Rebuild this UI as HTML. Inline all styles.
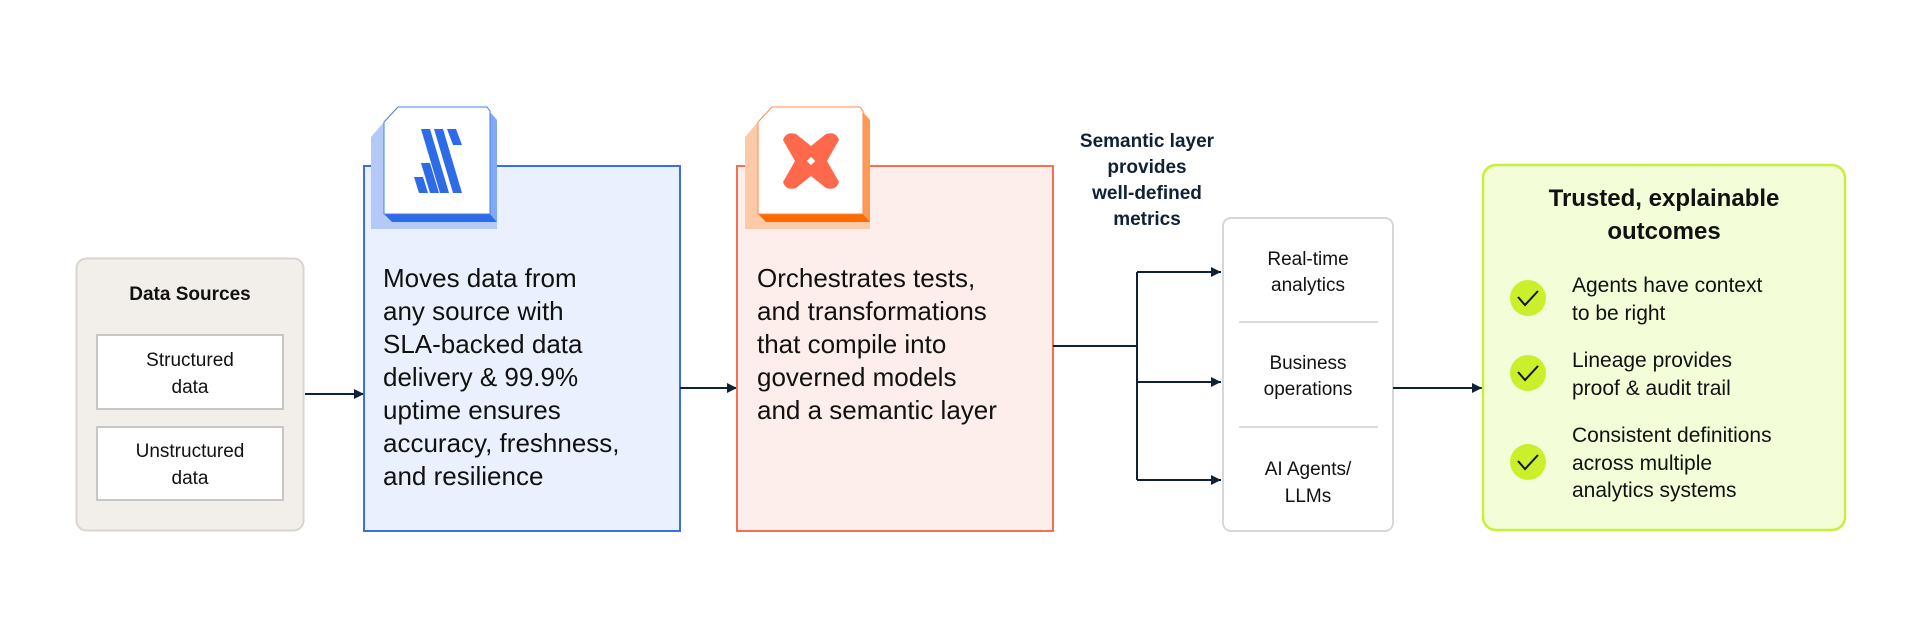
<!DOCTYPE html>
<html><head><meta charset="utf-8"><style>
html,body{margin:0;padding:0;background:#fff;}
svg{display:block;}
text{font-family:"Liberation Sans",sans-serif;}
</style></head><body>
<svg width="1920" height="639" viewBox="0 0 1920 639" xmlns="http://www.w3.org/2000/svg">
<defs>
<marker id="ah" viewBox="0 0 10 10" refX="10" refY="5" markerWidth="10" markerHeight="10" markerUnits="userSpaceOnUse" orient="auto"><path d="M0,0 L10,5 L0,10 z" fill="#0f2135"/></marker>
</defs>

<rect x="76.5" y="258.5" width="227" height="272" rx="10" fill="#f2efeb" stroke="#d8d5d1" stroke-width="2"/>
<text x="190" y="300" font-size="19" font-weight="bold" text-anchor="middle" fill="#111">Data Sources</text>
<rect x="97" y="335" width="186" height="74" fill="#fff" stroke="#c9c7c5" stroke-width="2"/>
<text x="190" y="366" font-size="19" text-anchor="middle" fill="#111">Structured</text>
<text x="190" y="393" font-size="19" text-anchor="middle" fill="#111">data</text>
<rect x="97" y="427" width="186" height="73" fill="#fff" stroke="#c9c7c5" stroke-width="2"/>
<text x="190" y="457" font-size="19" text-anchor="middle" fill="#111">Unstructured</text>
<text x="190" y="484" font-size="19" text-anchor="middle" fill="#111">data</text>

<line x1="305" y1="394" x2="364" y2="394" stroke="#0f2135" stroke-width="2" marker-end="url(#ah)"/>

<rect x="364" y="166" width="316" height="365" fill="#eaf0fd" stroke="#3a6ee8" stroke-width="2"/>
<path d="M371,137 L384,122 L384,214 L490,214 L497,222 L497,229 L371,229 Z" fill="#b5c9f7"/>
<path d="M384,214 L490,214 L497,222 L392,222 Z" fill="#2e6be6"/>
<path d="M490,112 L497,120 L497,222 L490,214 Z" fill="#7fa8f5"/>
<path d="M398,107 L487,107 L490,111 L490,214 L384,214 L384,122 Z" fill="#fff" stroke="#4a7dec" stroke-width="1"/>
<g fill="#2e6be6">
<path d="M421,129 L430,129 L449,193 L440,193 Z"/>
<path d="M434,129 L443,129 L462,193 L453,193 Z"/>
<path d="M447,129 L456,129 L462,145 L453,145 Z"/>
<path d="M414,177 L423,177 L428,193 L419,193 Z"/>
<path d="M421,163 L430,163 L439,193 L430,193 Z"/>
</g>
<g font-size="26" fill="#111">
<text x="383" y="287">Moves data from</text>
<text x="383" y="320">any source with</text>
<text x="383" y="353">SLA-backed data</text>
<text x="383" y="386">delivery &amp; 99.9%</text>
<text x="383" y="419">uptime ensures</text>
<text x="383" y="452">accuracy, freshness,</text>
<text x="383" y="485">and resilience</text>
</g>

<line x1="680" y1="388" x2="737" y2="388" stroke="#0f2135" stroke-width="2" marker-end="url(#ah)"/>

<rect x="737" y="166" width="316" height="365" fill="#fdeeec" stroke="#f76e50" stroke-width="2"/>
<path d="M745,137 L758,122 L758,214 L863,214 L870,222 L870,229 L745,229 Z" fill="#fdcaa8"/>
<path d="M758,214 L863,214 L870,222 L766,222 Z" fill="#ff6a00"/>
<path d="M863,112 L870,120 L870,222 L863,214 Z" fill="#ff9a55"/>
<path d="M772,107 L860,107 L863,111 L863,214 L758,214 L758,122 Z" fill="#fff" stroke="#ff8a4a" stroke-width="1"/>
<path d="M783,140 Q786,131 796,134 L811,146 L826,134 Q836,131 839,140 L827,161 L839,182 Q836,191 826,188 L811,176 L796,188 Q786,191 783,182 L795,161 Z" fill="#ff694b"/>
<rect x="808" y="158" width="6" height="6" transform="rotate(45 811 161)" fill="#fff"/>
<g font-size="26" fill="#111">
<text x="757" y="287">Orchestrates tests,</text>
<text x="757" y="320">and transformations</text>
<text x="757" y="353">that compile into</text>
<text x="757" y="386">governed models</text>
<text x="757" y="419">and a semantic layer</text>
</g>

<g font-size="19" font-weight="bold" fill="#0f2135" text-anchor="middle">
<text x="1147" y="147">Semantic layer</text>
<text x="1147" y="173">provides</text>
<text x="1147" y="199">well-defined</text>
<text x="1147" y="225">metrics</text>
</g>

<path d="M1053,346 L1137,346" stroke="#0f2135" stroke-width="2" fill="none"/>
<path d="M1137,272 L1137,480" stroke="#0f2135" stroke-width="2" fill="none"/>
<line x1="1137" y1="272" x2="1221" y2="272" stroke="#0f2135" stroke-width="2" marker-end="url(#ah)"/>
<line x1="1137" y1="382" x2="1221" y2="382" stroke="#0f2135" stroke-width="2" marker-end="url(#ah)"/>
<line x1="1137" y1="480" x2="1221" y2="480" stroke="#0f2135" stroke-width="2" marker-end="url(#ah)"/>

<rect x="1223" y="218" width="170" height="313" rx="8" fill="#fff" stroke="#d5d7db" stroke-width="2"/>
<line x1="1239" y1="322" x2="1378" y2="322" stroke="#d9dbdf" stroke-width="2"/>
<line x1="1239" y1="427" x2="1378" y2="427" stroke="#d9dbdf" stroke-width="2"/>
<g font-size="19" fill="#111" text-anchor="middle">
<text x="1308" y="265">Real-time</text>
<text x="1308" y="291">analytics</text>
<text x="1308" y="369">Business</text>
<text x="1308" y="395">operations</text>
<text x="1308" y="475">AI Agents/</text>
<text x="1308" y="502">LLMs</text>
</g>

<line x1="1393" y1="388" x2="1482" y2="388" stroke="#0f2135" stroke-width="2" marker-end="url(#ah)"/>

<rect x="1483" y="165" width="362" height="365" rx="13" fill="#f3fdd7" stroke="#c8ef3a" stroke-width="2.5"/>
<g font-size="24" font-weight="bold" fill="#111" text-anchor="middle">
<text x="1664" y="206">Trusted, explainable</text>
<text x="1664" y="239">outcomes</text>
</g>
<g fill="#c9f02a">
<circle cx="1528" cy="298" r="18"/>
<circle cx="1528" cy="373" r="18"/>
<circle cx="1528" cy="462" r="18"/>
</g>
<g stroke="#111" stroke-width="2" fill="none">
<path d="M1518,297 L1525,305 L1538,291"/>
<path d="M1518,372 L1525,380 L1538,366"/>
<path d="M1518,461 L1525,469 L1538,455"/>
</g>
<g font-size="21" fill="#111">
<text x="1572" y="292">Agents have context</text>
<text x="1572" y="320">to be right</text>
<text x="1572" y="367">Lineage provides</text>
<text x="1572" y="395">proof &amp; audit trail</text>
<text x="1572" y="442">Consistent definitions</text>
<text x="1572" y="470">across multiple</text>
<text x="1572" y="497">analytics systems</text>
</g>
</svg>
</body></html>
